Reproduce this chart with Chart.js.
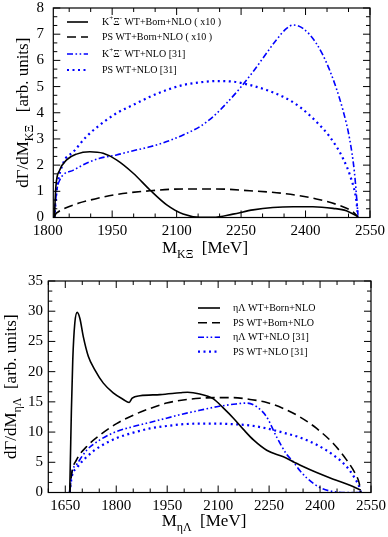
<!DOCTYPE html>
<html>
<head>
<meta charset="utf-8">
<script src="https://cdn.jsdelivr.net/npm/chart.js@4.4.0/dist/chart.umd.min.js"></script>
<style>
  html, body { margin: 0; padding: 0; background: #fff; }
  #wrap { position: relative; width: 388px; height: 537px; }
  canvas { position: absolute; left: 0; }
</style>
</head>
<body>
<div id="wrap">
  <canvas id="topChart" width="388" height="265" style="top:0"></canvas>
  <canvas id="bottomChart" width="388" height="272" style="top:265px"></canvas>
</div>
<script>
// ---- top panel: K+ Xi- invariant mass ----
const kxiFullX = [1815.5, 1819, 1828, 1844, 1867, 1898, 1929, 1960, 1999, 2038, 2077, 2115, 2154, 2185, 2231, 2278, 2324, 2371, 2417, 2464, 2495, 2522];
const kxiFullY = [0, 1.18, 1.81, 2.2, 2.42, 2.51, 2.45, 2.2, 1.69, 1.05, 0.48, 0.13, 0.01, 0.01, 0.13, 0.29, 0.38, 0.41, 0.41, 0.35, 0.26, 0.03];

const kxiPsX = [1815.5, 1818, 1825, 1840, 1871, 1910, 1960, 2038, 2115, 2193, 2270, 2348, 2425, 2487, 2510, 2522];
const kxiPsY = [0, 0.12, 0.22, 0.35, 0.54, 0.71, 0.88, 1.02, 1.09, 1.09, 1.02, 0.92, 0.71, 0.41, 0.22, 0.03];

const kxiWtX = [1815.5, 1820, 1828, 1860, 1890, 1921, 1960, 1999, 2038, 2077, 2115, 2154, 2185, 2216, 2247, 2278, 2309, 2332, 2356, 2371, 2394, 2425, 2456, 2487, 2503, 2514, 2522];
const kxiWtY = [0, 0.9, 1.43, 1.81, 2.07, 2.26, 2.39, 2.55, 2.7, 2.9, 3.15, 3.47, 3.85, 4.36, 4.93, 5.57, 6.27, 6.78, 7.22, 7.35, 7.22, 6.65, 5.63, 4.1, 2.96, 1.69, 0.1];

const kxiPsWtX = [1815.5, 1821, 1836, 1860, 1890, 1921, 1960, 1999, 2038, 2077, 2115, 2154, 2193, 2231, 2270, 2309, 2348, 2386, 2425, 2456, 2487, 2507, 2518, 2522];
const kxiPsWtY = [0, 1.05, 2.07, 2.51, 3.09, 3.53, 3.98, 4.3, 4.61, 4.87, 5.06, 5.16, 5.21, 5.19, 5.06, 4.87, 4.61, 4.23, 3.66, 3.09, 2.26, 1.43, 0.67, 0.03];

const topXTicks = [1800, 1950, 2100, 2250, 2400, 2550];
const topYTicks = [0, 1, 2, 3, 4, 5, 6, 7, 8];

// ---- bottom panel: eta Lambda invariant mass ----
const etaFullX = [1663, 1665, 1668, 1672, 1678, 1685, 1693, 1703, 1718, 1737, 1762, 1791, 1821, 1838, 1847, 1870, 1929, 1988, 2010, 2046, 2086, 2115, 2145, 2175, 2204, 2243, 2292, 2321, 2350, 2390, 2439, 2488, 2520];
const etaFullY = [0, 5.4, 13.6, 21.9, 28, 29.8, 28.8, 25.8, 22.5, 20.3, 18.1, 16.5, 15.4, 14.9, 15.6, 16.0, 16.2, 16.5, 16.6, 16.3, 15.5, 14.0, 12.3, 10.4, 8.7, 7.0, 5.9, 5.1, 4.3, 3.3, 2.2, 1.2, 0.4];

const etaPsX = [1663, 1669, 1683, 1713, 1752, 1801, 1850, 1899, 1948, 1997, 2046, 2096, 2145, 2194, 2243, 2292, 2341, 2390, 2439, 2478, 2503, 2515, 2520];
const etaPsY = [0, 3.2, 5.4, 7.6, 9.5, 11.4, 12.8, 13.9, 14.8, 15.3, 15.6, 15.7, 15.7, 15.4, 14.9, 13.9, 12.5, 10.6, 8.1, 5.4, 3.2, 1.6, 0];

const etaWtX = [1663, 1669, 1683, 1713, 1752, 1801, 1850, 1899, 1948, 1997, 2046, 2096, 2145, 2184, 2213, 2243, 2272, 2302, 2321, 2341, 2361, 2400, 2439, 2488, 2520];
const etaWtY = [0, 3.2, 4.6, 7.0, 8.7, 10.1, 10.9, 11.6, 12.3, 13.0, 13.6, 14.2, 14.6, 14.8, 14.2, 12.5, 9.2, 6.3, 5.1, 3.6, 2.4, 0.8, 0.15, 0, 0];

const etaPsWtX = [1663, 1669, 1683, 1713, 1752, 1801, 1850, 1899, 1948, 1997, 2046, 2096, 2145, 2194, 2243, 2292, 2341, 2390, 2439, 2478, 2503, 2515, 2520];
const etaPsWtY = [0, 2.6, 4.0, 5.9, 7.6, 9.0, 9.9, 10.6, 11.0, 11.3, 11.4, 11.4, 11.3, 11.1, 10.6, 9.9, 9.1, 7.9, 6.2, 4.3, 2.3, 1.0, 0];

const bottomXTicks = [1650, 1800, 1950, 2100, 2250, 2400, 2550];
const bottomYTicks = [0, 5, 10, 15, 20, 25, 30, 35];

// legend texts as [text, 'sub' | 'sup' | ''] pieces
const topLegend = [
  [['K', ''], ['+', 'sup'], ['Ξ', ''], ['-', 'sup'], [' WT+Born+NLO ( x10 )', '']],
  [['PS WT+Born+NLO ( x10 )', '']],
  [['K', ''], ['+', 'sup'], ['Ξ', ''], ['-', 'sup'], [' WT+NLO [31]', '']],
  [['PS WT+NLO [31]', '']]
];
const bottomLegend = [
  [['ηΛ WT+Born+NLO', '']],
  [['PS WT+Born+NLO', '']],
  [['ηΛ WT+NLO [31]', '']],
  [['PS WT+NLO [31]', '']]
];

const SERIF = '"Liberation Serif", "DejaVu Serif", serif';
const pts = (xs, ys) => xs.map((x, i) => ({ x, y: ys[i] }));

const styles = [
  { borderColor: '#000', borderWidth: 1.6, borderDash: [] },
  { borderColor: '#000', borderWidth: 1.6, borderDash: [9, 5] },
  { borderColor: '#0000ff', borderWidth: 1.6, borderDash: [6, 2.5, 1.6, 2.5, 1.6, 2.5] },
  { borderColor: '#0000ff', borderWidth: 2.2, borderDash: [2, 3.5] }
];

function richWidth(ctx, parts, size) {
  let w = 0;
  for (const [t, m] of parts) {
    ctx.font = `${m ? size * 0.7 : size}px ${SERIF}`;
    w += ctx.measureText(t).width;
  }
  return w;
}

function drawRich(ctx, parts, x, y, size) {
  let cx = x;
  for (const [t, m] of parts) {
    const s = m ? size * 0.7 : size;
    const dy = m === 'sub' ? size * 0.3 : m === 'sup' ? -size * 0.4 : 0;
    ctx.font = `${s}px ${SERIF}`;
    ctx.fillText(t, cx, y + dy);
    cx += ctx.measureText(t).width;
  }
}

const framePlugin = {
  id: 'frame',
  afterDraw(chart, args, o) {
    const { ctx, chartArea: a, scales: { x, y } } = chart;
    ctx.save();
    ctx.strokeStyle = '#000';
    ctx.fillStyle = '#000';
    ctx.lineWidth = 1.2;
    ctx.setLineDash([]);
    ctx.strokeRect(a.left, a.top, a.right - a.left, a.bottom - a.top);

    // inward ticks, two minor ticks between majors
    ctx.lineWidth = 1;
    const ticksFor = (majors, scale, drawFn) => {
      const step = (majors[1] - majors[0]) / 3;
      const n = (majors.length - 1) * 3;
      for (let k = -3; k <= n + 3; k++) {
        const v = majors[0] + k * step;
        if (v < scale.min - 1e-6 || v > scale.max + 1e-6) continue;
        const major = k >= 0 && k <= n && k % 3 === 0;
        drawFn(scale.getPixelForValue(v), major ? 7 : 4);
      }
    };
    ctx.beginPath();
    ticksFor(o.xTicks, x, (p, len) => {
      ctx.moveTo(p, a.bottom); ctx.lineTo(p, a.bottom - len);
      ctx.moveTo(p, a.top); ctx.lineTo(p, a.top + len);
    });
    ticksFor(o.yTicks, y, (p, len) => {
      ctx.moveTo(a.left, p); ctx.lineTo(a.left + len, p);
      ctx.moveTo(a.right, p); ctx.lineTo(a.right - len, p);
    });
    ctx.stroke();

    // tick labels
    ctx.font = `15px ${SERIF}`;
    ctx.textAlign = 'center';
    ctx.textBaseline = 'alphabetic';
    o.xTicks.forEach(v => ctx.fillText(String(v), x.getPixelForValue(v), a.bottom + 17.5));
    ctx.textAlign = 'right';
    ctx.textBaseline = 'middle';
    o.yTicks.forEach(v => ctx.fillText(String(v), o.yLabelRight, y.getPixelForValue(v)));

    // axis titles
    ctx.textAlign = 'left';
    ctx.textBaseline = 'alphabetic';
    const xw = richWidth(ctx, o.xTitle, 17);
    drawRich(ctx, o.xTitle, o.xTitleX - xw / 2, o.xTitleY, 17);
    ctx.save();
    ctx.translate(o.yTitleX, (a.top + a.bottom) / 2);
    ctx.rotate(-Math.PI / 2);
    const yw = richWidth(ctx, o.yTitle, 17);
    drawRich(ctx, o.yTitle, -yw / 2, 0, 17);
    ctx.restore();

    // legend
    const ds = chart.data.datasets;
    o.legend.forEach((parts, i) => {
      const ly = o.legendRows[i];
      ctx.strokeStyle = ds[i].borderColor;
      ctx.lineWidth = ds[i].borderWidth;
      ctx.setLineDash(ds[i].borderDash);
      ctx.beginPath();
      ctx.moveTo(o.legendX0, ly);
      ctx.lineTo(o.legendX1, ly);
      ctx.stroke();
      ctx.setLineDash([]);
      ctx.textBaseline = 'middle';
      drawRich(ctx, parts, o.legendTextX, ly + 0.5, 10);
    });
    ctx.restore();
  }
};

function makeChart(id, series, xMin, xMax, yMax, padding, frameOpts) {
  return new Chart(document.getElementById(id), {
    type: 'line',
    data: {
      datasets: series.map((s, i) => ({
        data: pts(s[0], s[1]),
        ...styles[i],
        pointRadius: 0,
        fill: false,
        cubicInterpolationMode: 'monotone'
      }))
    },
    options: {
      responsive: false,
      animation: false,
      layout: { padding },
      plugins: {
        legend: { display: false },
        tooltip: { enabled: false },
        frame: frameOpts
      },
      scales: {
        x: { type: 'linear', min: xMin, max: xMax, display: false },
        y: { type: 'linear', min: 0, max: yMax, display: false }
      }
    },
    plugins: [framePlugin]
  });
}

makeChart('topChart',
  [[kxiFullX, kxiFullY], [kxiPsX, kxiPsY], [kxiWtX, kxiWtY], [kxiPsWtX, kxiPsWtY]],
  1813, 2550, 8,
  { left: 53.3, right: 18, top: 8, bottom: 47.5 },
  {
    xTicks: topXTicks, yTicks: topYTicks, yLabelRight: 44,
    xTitle: [['M', ''], ['KΞ', 'sub'], ['  [MeV]', '']], xTitleX: 205, xTitleY: 253,
    yTitle: [['dΓ/dM', ''], ['KΞ', 'sub'], ['   [arb. units]', '']], yTitleX: 28,
    legend: topLegend, legendRows: [22, 37, 54, 70],
    legendX0: 67, legendX1: 88, legendTextX: 102
  });

makeChart('bottomChart',
  [[etaFullX, etaFullY], [etaPsX, etaPsY], [etaWtX, etaWtY], [etaPsWtX, etaPsWtY]],
  1600, 2550, 35,
  { left: 48.3, right: 17, top: 16, bottom: 44.5 },
  {
    xTicks: bottomXTicks, yTicks: bottomYTicks, yLabelRight: 43,
    xTitle: [['M', ''], ['ηΛ', 'sub'], ['  [MeV]', '']], xTitleX: 204, xTitleY: 261,
    yTitle: [['dΓ/dM', ''], ['ηΛ', 'sub'], ['  [arb. units]', '']], yTitleX: 16,
    legend: bottomLegend, legendRows: [43, 57.7, 72.3, 86.7],
    legendX0: 198, legendX1: 220, legendTextX: 233
  });
</script>
</body>
</html>
